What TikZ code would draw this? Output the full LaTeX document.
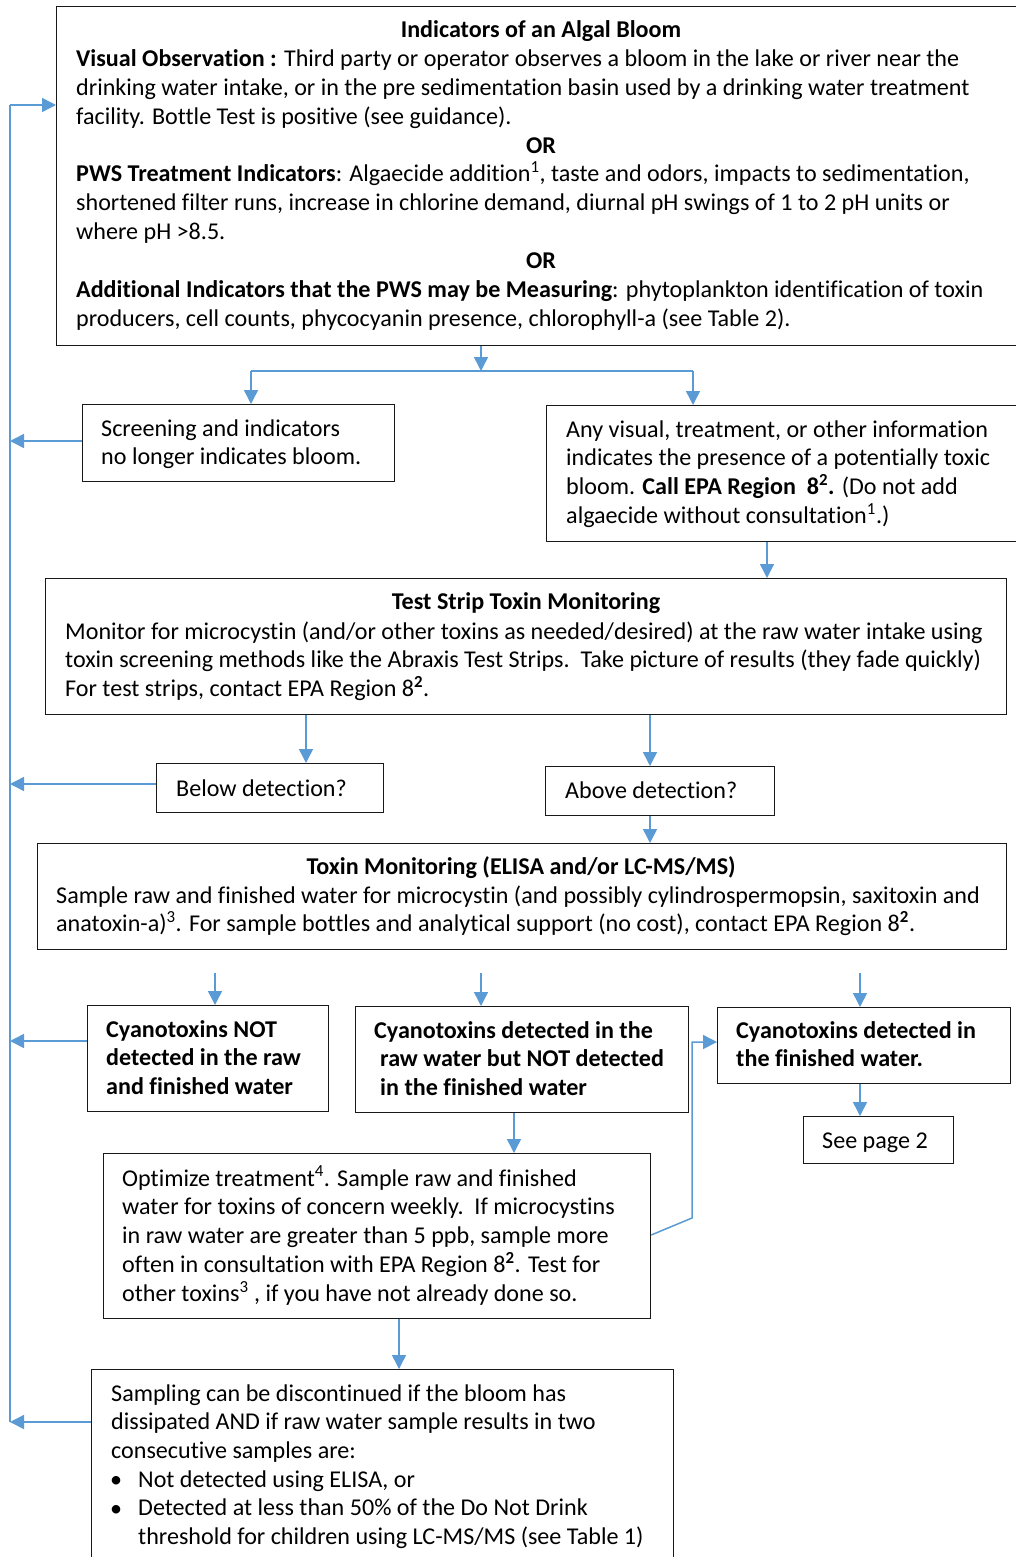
\documentclass[tikz,border=0pt]{standalone}
\usepackage{fontspec}
\setmainfont{Carlito}[Ligatures=CommonOff]
\usetikzlibrary{arrows.meta,calc}
\definecolor{conblue}{RGB}{91,155,213}
\newcommand\mylines[1]{\begin{tabular}[t]{@{}l@{}}#1\end{tabular}}
\newcommand\supb[1]{\textsuperscript{\textbf{#1}}}
\begin{document}
\begin{tikzpicture}[x=1pt,y=-1pt,
 box/.style={draw=black!90, line width=1.2pt, anchor=north west, inner sep=0pt, rectangle},
 txt/.style={anchor=base west, inner sep=0pt, font=\fontsize{24.1}{28.8}\selectfont},
 btxt/.style={txt, font=\fontsize{24.1}{28.8}\selectfont\bfseries},
 ctxt/.style={anchor=base, inner sep=0pt, font=\fontsize{24.1}{28.8}\selectfont\bfseries},
 line/.style={draw=conblue, line width=1.5pt},
 conn/.style={line, -{Triangle[length=14pt,width=14pt]}}]
\useasboundingbox (0,0) rectangle (1016,1557);
\clip (0,0) rectangle (1016,1557);
\fill[white] (0,0) rectangle (1016,1557);

% ---------- boxes ----------
\node[box, minimum width=980pt, minimum height=339pt] (top) at (56,6) {};
\node[box, minimum width=312pt, minimum height=77pt] (screen) at (82,404) {};
\node[box, minimum width=490pt, minimum height=136pt] (anyvis) at (546,405) {};
\node[box, minimum width=961pt, minimum height=136pt] (strip) at (45,578) {};
\node[box, minimum width=227pt, minimum height=49pt] (below) at (156,763) {};
\node[box, minimum width=229pt, minimum height=49pt] (above) at (545,766) {};
\node[box, minimum width=969pt, minimum height=106pt] (toxin) at (37,843) {};
\node[box, minimum width=241pt, minimum height=106pt] (notdet) at (87,1005) {};
\node[box, minimum width=333pt, minimum height=106pt] (rawdet) at (355,1006) {};
\node[box, minimum width=293pt, minimum height=76pt] (findet) at (717,1007) {};
\node[box, minimum width=150pt, minimum height=47pt] (page2) at (803,1116) {};
\node[box, minimum width=547pt, minimum height=165pt] (optim) at (103,1153) {};
\node[box, minimum width=582pt, minimum height=230pt] (sampl) at (91,1369) {};

% ---------- texts ----------
\node[ctxt] (t0) at (541,38) {Indicators of an Algal Bloom};
\node[txt] (t1) at (76,66.8) {\mylines{\textbf{Visual Observation :} Third party or operator observes a bloom in the lake or river near the\\
drinking water intake, or in the pre sedimentation basin used by a drinking water treatment\\
facility. Bottle Test is positive (see guidance).}};
\node[ctxt] (or1) at (541,153.2) {OR};
\node[txt] (t2) at (76,182) {\mylines{\textbf{PWS Treatment Indicators}: Algaecide addition\textsuperscript{1}, taste and odors, impacts to sedimentation,\\
shortened filter runs, increase in chlorine demand, diurnal pH swings of 1 to 2 pH units or\\
where pH >8.5.}};
\node[ctxt] (or2) at (541,268.4) {OR};
\node[txt] (t3) at (76,297.2) {\mylines{\textbf{Additional Indicators that the PWS may be Measuring}: phytoplankton identification of toxin\\
producers, cell counts, phycocyanin presence, chlorophyll-a (see Table 2).}};

\node[txt] (t4) at (101,436) {\mylines{Screening and indicators\\ no longer indicates bloom.}};
\node[txt] (t5) at (566,437) {\mylines{Any visual, treatment, or other information\\
indicates the presence of a potentially toxic\\
bloom. \textbf{Call EPA Region\ \ 8\textsuperscript{2}.} (Do not add\\
algaecide without consultation\textsuperscript{1}.)}};

\node[ctxt] (t6) at (526,609) {Test Strip Toxin Monitoring};
\node[txt] (t7) at (65,639) {\mylines{Monitor for microcystin (and/or other toxins as needed/desired) at the raw water intake using\\
toxin screening methods like the Abraxis Test Strips.\ \ Take picture of results (they fade quickly)\\
For test strips, contact EPA Region 8\supb{2}.}};

\node[txt] (t8) at (176,796) {Below detection?};
\node[txt] (t9) at (565,798) {Above detection?};

\node[ctxt] (t10) at (521,874) {Toxin Monitoring (ELISA and/or LC-MS/MS)};
\node[txt] (t11) at (56,903) {\mylines{Sample raw and finished water for microcystin (and possibly cylindrospermopsin, saxitoxin and\\
anatoxin-a)\textsuperscript{3}. For sample bottles and analytical support (no cost), contact EPA Region 8\supb{2}.}};

\node[btxt] (t12) at (106,1037) {\mylines{Cyanotoxins NOT\\ detected in the raw\\ and finished water}};
\node[btxt] (t13) at (374,1038) {\mylines{Cyanotoxins detected in the\\ \hspace*{6pt}raw water but NOT detected\\ \hspace*{6pt}in the finished water}};
\node[btxt] (t14) at (736,1038) {\mylines{Cyanotoxins detected in\\ the finished water.}};
\node[txt] (t15) at (822,1148) {See page 2};

\node[txt] (t16) at (122,1186) {\mylines{Optimize treatment\textsuperscript{4}. Sample raw and finished\\
water for toxins of concern weekly.\ \ If microcystins\\
in raw water are greater than 5 ppb, sample more\\
often in consultation with EPA Region 8\supb{2}. Test for\\
other toxins\textsuperscript{3} , if you have not already done so.}};

\node[txt] (t17) at (111,1401) {\mylines{Sampling can be discontinued if the bloom has\\
dissipated AND if raw water sample results in two\\
consecutive samples are:}};
\node[txt] (b1) at (110,1487) {•};
\node[txt] (b2) at (110,1516) {•};
\node[txt] (t18) at (138,1487) {\mylines{Not detected using ELISA, or\\
Detected at less than 50\% of the Do Not Drink\\
threshold for children using LC-MS/MS (see Table 1)}};

% ---------- connectors ----------
\coordinate (Ltop) at (10,105);
\coordinate (Lbot) at (10,1422);
\draw[line] (Lbot) -- (Ltop);
\draw[conn] (Ltop) -- (top.west |- Ltop);

\coordinate (split) at (481,371);
\coordinate (sL) at (251,371);
\coordinate (sR) at (693,371);
\draw[conn] (split |- top.south) -- (split);
\draw[line] (sL) -- (sR);
\draw[conn] (sL) -- (sL |- screen.north);
\draw[conn] (sR) -- (sR |- anyvis.north);

\coordinate (yScr) at (0,441);
\draw[conn] (screen.west |- yScr) -- (Ltop |- yScr);

\coordinate (x767) at (767,0);
\draw[conn] (x767 |- anyvis.south) -- (x767 |- strip.north);

\coordinate (x306) at (306,0);
\coordinate (x650) at (650,0);
\draw[conn] (x306 |- strip.south) -- (x306 |- below.north);
\draw[conn] (x650 |- strip.south) -- (x650 |- above.north);
\coordinate (yBel) at (0,784);
\draw[conn] (below.west |- yBel) -- (Ltop |- yBel);
\draw[conn] (x650 |- above.south) -- (x650 |- toxin.north);

\coordinate (f1) at (215,973);
\coordinate (f2) at (481,973);
\coordinate (f3) at (860,973);
\draw[conn] (f1) -- (f1 |- notdet.north);
\draw[conn] (f2) -- (f2 |- rawdet.north);
\draw[conn] (f3) -- (f3 |- findet.north);

\coordinate (yNot) at (0,1041);
\draw[conn] (notdet.west |- yNot) -- (Ltop |- yNot);

\coordinate (x514) at (514,0);
\draw[conn] (x514 |- rawdet.south) -- (x514 |- optim.north);
\draw[conn] (f3 |- findet.south) -- (f3 |- page2.north);

\coordinate (yOpt) at (0,1235);
\coordinate (bend1) at (692,1218);
\coordinate (bend2) at (692,1042);
\draw[conn] (optim.east |- yOpt) -- (bend1) -- (bend2) -- (findet.west |- bend2);

\coordinate (x399) at (399,0);
\draw[conn] (x399 |- optim.south) -- (x399 |- sampl.north);
\coordinate (ySam) at (0,1422);
\draw[conn] (sampl.west |- ySam) -- (Ltop |- ySam);
\end{tikzpicture}
\end{document}
